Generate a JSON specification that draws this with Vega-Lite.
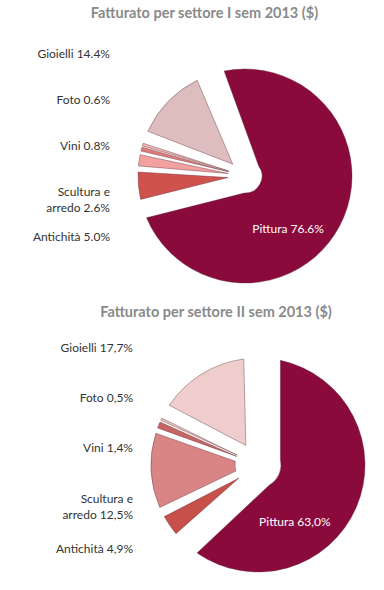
{
  "$schema": "https://vega.github.io/schema/vega-lite/v6.json",
  "padding": {"left": 5, "top": 5, "right": 0, "bottom": 0},
  "background": "white",
  "config": {"view": {"stroke": null}},
  "datasets": {
    "s1": [
      {"sector": "Pittura", "pct": 76.6, "ord": 1, "label": "Pittura 76.6%"},
      {"sector": "Antichità", "pct": 5.0, "ord": 2, "label": "Antichità 5.0%"},
      {"sector": "Scultura e arredo", "pct": 2.6, "ord": 3, "label": "Scultura e\narredo 2.6%"},
      {"sector": "Vini", "pct": 0.8, "ord": 4, "label": "Vini 0.8%"},
      {"sector": "Foto", "pct": 0.6, "ord": 5, "label": "Foto 0.6%"},
      {"sector": "Gioielli", "pct": 14.4, "ord": 6, "label": "Gioielli 14.4%"}
    ],
    "s2": [
      {"sector": "Pittura", "pct": 63.0, "ord": 1, "label": "Pittura 63,0%"},
      {"sector": "Antichità", "pct": 4.9, "ord": 2, "label": "Antichità 4,9%"},
      {"sector": "Scultura e arredo", "pct": 12.5, "ord": 3, "label": "Scultura e\narredo 12,5%"},
      {"sector": "Vini", "pct": 1.4, "ord": 4, "label": "Vini 1,4%"},
      {"sector": "Foto", "pct": 0.5, "ord": 5, "label": "Foto 0,5%"},
      {"sector": "Gioielli", "pct": 17.7, "ord": 6, "label": "Gioielli 17,7%"}
    ]
  },
  "spacing": 6,
  "resolve": {"scale": {"color": "independent", "theta": "independent", "y": "independent", "x": "independent"}},
  "vconcat": [
    {
      "title": {"text": "Fatturato per settore I sem 2013 ($)", "font": "Lato", "fontSize": 14.5, "fontWeight": "bold", "color": "#8a8a8a", "anchor": "middle", "dx": 12, "offset": 27},
      "spacing": 0,
      "resolve": {"scale": {"color": "independent", "theta": "independent", "y": "independent", "x": "independent"}},
      "hconcat": [
        {
          "width": 105,
          "height": 244,
          "data": {"name": "s1"},
          "transform": [{"filter": "datum.sector !== 'Pittura'"}],
          "mark": {"type": "text", "align": "right", "baseline": "middle", "fontSize": 12, "font": "Lato", "color": "#333333", "lineBreak": "\n", "lineHeight": 16},
          "encoding": {
            "x": {"value": "width"},
            "y": {"field": "sector", "type": "nominal", "axis": null, "scale": {"type": "point", "domain": ["Gioielli", "Foto", "Vini", "Scultura e arredo", "Antichità"], "padding": 0.66, "align": 0}},
            "text": {"field": "label"}
          }
        },
        {
          "width": 270,
          "height": 244,
          "data": {"name": "s1"},
          "resolve": {"scale": {"theta": "independent"}},
          "layer": [
            {
              "mark": {"type": "arc", "outerRadius": 107, "innerRadius": 17, "padAngle": {"expr": "datum.sector === 'Pittura' ? 0.302 : datum.sector === 'Gioielli' ? 0.226 : (datum.sector === 'Foto' || datum.sector === 'Vini') ? 0.012 : 0.056"}, "stroke": "#5a2a35", "strokeOpacity": 0.4, "strokeWidth": 1},
              "encoding": {
                "theta": {"field": "pct", "type": "quantitative", "stack": true, "scale": {"domain": [0, 100], "range": [-0.349, 5.934]}},
                "color": {"field": "sector", "type": "nominal", "legend": null, "scale": {"domain": ["Pittura", "Antichità", "Scultura e arredo", "Vini", "Foto", "Gioielli"], "range": ["#8b0a3c", "#d0524c", "#f2a0a0", "#e07a7a", "#f0b8b8", "#ddbdbe"]}},
                "order": {"field": "ord", "type": "quantitative"}
              }
            },
            {
              "mark": {"type": "text", "radius": 68, "font": "Lato", "fontSize": 12, "color": "white", "align": "center", "baseline": "middle"},
              "encoding": {
                "theta": {"field": "pct", "type": "quantitative", "stack": true, "scale": {"domain": [0, 100], "range": [0.05, 6.333]}},
                "detail": {"field": "sector", "type": "nominal"},
                "order": {"field": "ord", "type": "quantitative"},
                "text": {"condition": {"test": "datum.sector === 'Pittura'", "field": "label"}, "value": ""}
              }
            }
          ]
        }
      ]
    },
    {
      "title": {"text": "Fatturato per settore II sem 2013 ($)", "font": "Lato", "fontSize": 14.5, "fontWeight": "bold", "color": "#8a8a8a", "anchor": "middle", "dx": 22, "offset": 22},
      "spacing": 0,
      "resolve": {"scale": {"color": "independent", "theta": "independent", "y": "independent", "x": "independent"}},
      "hconcat": [
        {
          "width": 128,
          "height": 234,
          "data": {"name": "s2"},
          "transform": [{"filter": "datum.sector !== 'Pittura'"}],
          "mark": {"type": "text", "align": "right", "baseline": "middle", "fontSize": 12, "font": "Lato", "color": "#333333", "lineBreak": "\n", "lineHeight": 16},
          "encoding": {
            "x": {"value": "width"},
            "y": {"field": "sector", "type": "nominal", "axis": null, "scale": {"type": "point", "domain": ["Gioielli", "Foto", "Vini", "Scultura e arredo", "Antichità"], "padding": 0.33, "align": 0}},
            "text": {"field": "label"}
          }
        },
        {
          "width": 250,
          "height": 234,
          "data": {"name": "s2"},
          "resolve": {"scale": {"theta": "independent"}},
          "layer": [
            {
              "mark": {"type": "arc", "outerRadius": 107, "innerRadius": 23, "padAngle": {"expr": "datum.sector === 'Pittura' ? 0.412 : datum.sector === 'Gioielli' ? 0.261 : datum.sector === 'Antichità' ? 0.112 : datum.sector === 'Scultura e arredo' ? 0.074 : datum.sector === 'Vini' ? 0.028 : 0.01"}, "stroke": "#5a2a35", "strokeOpacity": 0.4, "strokeWidth": 1},
              "encoding": {
                "theta": {"field": "pct", "type": "quantitative", "stack": true, "scale": {"domain": [0, 100], "range": [0, 6.2832]}},
                "color": {"field": "sector", "type": "nominal", "legend": null, "scale": {"domain": ["Pittura", "Antichità", "Scultura e arredo", "Vini", "Foto", "Gioielli"], "range": ["#8b0a3c", "#c8504a", "#d98585", "#c86464", "#f2c4c4", "#f0cdcd"]}},
                "order": {"field": "ord", "type": "quantitative"}
              }
            },
            {
              "mark": {"type": "text", "radius": 68, "font": "Lato", "fontSize": 12, "color": "white", "align": "center", "baseline": "middle"},
              "encoding": {
                "theta": {"field": "pct", "type": "quantitative", "stack": true, "scale": {"domain": [0, 100], "range": [0.59, 6.873]}},
                "detail": {"field": "sector", "type": "nominal"},
                "order": {"field": "ord", "type": "quantitative"},
                "text": {"condition": {"test": "datum.sector === 'Pittura'", "field": "label"}, "value": ""}
              }
            }
          ]
        }
      ]
    }
  ]
}
